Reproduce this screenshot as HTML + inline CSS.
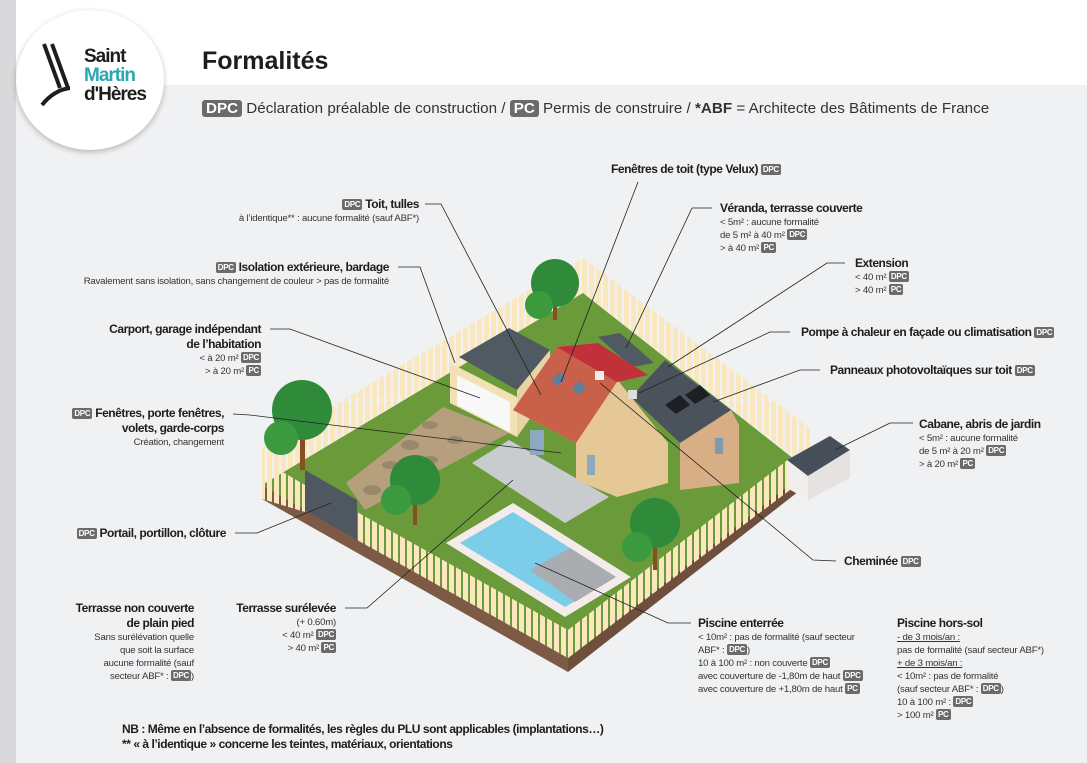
<!DOCTYPE html>
<html><head><meta charset="utf-8">
<style>
*{margin:0;padding:0;box-sizing:border-box}
body{width:1087px;height:763px;overflow:hidden;background:#f0f1f3;position:relative;font-family:"Liberation Sans Narrow","Liberation Sans",sans-serif;color:#1d1d1b}
.strip{position:absolute;left:0;top:0;width:16px;height:763px;background:#d9d9db}
.topw{position:absolute;left:16px;top:0;width:1071px;height:85px;background:#fff}
.logo{position:absolute;left:16px;top:10px;width:148px;height:140px;border-radius:50%;background:#fff;box-shadow:0 2px 6px rgba(0,0,0,.25)}
.t{position:absolute;font-size:9.6px;line-height:13px;white-space:nowrap;color:#333;letter-spacing:-0.2px}
.r{text-align:right}
.b{font-weight:bold;font-size:12px;color:#1d1d1b;line-height:14px;letter-spacing:-0.45px}
.bd{display:inline-block;background:#6b6b6b;color:#fff;font-weight:bold;font-size:8px;line-height:11px;padding:0 2px;border-radius:2px;vertical-align:1px;letter-spacing:-0.3px}
u{text-decoration:underline}
</style></head><body>
<div class="strip"></div><div class="topw"></div>
<div class="logo"></div>
<svg style="position:absolute;left:40px;top:40px" width="30" height="70"><path d="M4 4 L20 48 M12 4 L28 48" stroke="#1d1d1b" stroke-width="4" fill="none"/><path d="M2 65 Q14 50 30 48" stroke="#1d1d1b" stroke-width="4" fill="none"/></svg>
<div style="position:absolute;left:84px;top:47px;font:bold 19px/19px 'Liberation Sans',sans-serif;color:#1d1d1b;letter-spacing:-1px">Saint<br><span style="color:#2aa6b4">Martin</span><br><span>d'Hères</span></div>
<div style="position:absolute;left:202px;top:46px;font:bold 25px/30px 'Liberation Sans',sans-serif;color:#1d1d1b">Formalités</div>
<div style="position:absolute;left:202px;top:98px;font:15.2px/22px 'Liberation Sans',sans-serif;color:#333;white-space:nowrap"><span style="background:#6b6b6b;color:#fff;font-weight:bold;padding:0 4px;border-radius:3px">DPC</span> Déclaration préalable de construction / <span style="background:#6b6b6b;color:#fff;font-weight:bold;padding:0 4px;border-radius:3px">PC</span> Permis de construire / <b>*ABF</b> = Architecte des Bâtiments de France</div>

<svg style="position:absolute;left:0;top:0" width="1087" height="763">
<defs>
<pattern id="fence" width="7" height="400" patternUnits="userSpaceOnUse"><rect x="1" y="0" width="5" height="400" rx="2.5" fill="#fbe7bd"/></pattern>
</defs>
<polygon points="262,448 583,258 583,293 262,485" fill="url(#fence)"/>
<polygon points="583,258 810,428 810,470 583,293" fill="url(#fence)"/>
<polygon points="262,485 568,658 568,672 262,499" fill="#7d5a45"/>
<polygon points="568,658 808,470 808,484 568,672" fill="#6e4f3c"/>
<polygon points="262,485 583,293 808,470 568,658" fill="#6a9a3a"/>
<polygon points="443,407 509,433 365,510 346,483" fill="#b59f7d"/>
<g fill="#8a7a62" opacity=".6"><ellipse cx="430" cy="425" rx="8" ry="4"/><ellipse cx="410" cy="445" rx="9" ry="5"/><ellipse cx="390" cy="465" rx="8" ry="4"/><ellipse cx="372" cy="490" rx="9" ry="5"/><ellipse cx="455" cy="440" rx="8" ry="4"/><ellipse cx="430" cy="460" rx="8" ry="4"/></g>
<polygon points="472,463 509,440 609,497 565,523" fill="#c9cccf"/>
<polygon points="450,363 517,397 517,437 450,403" fill="#f3e0b5"/>
<polygon points="457,375 510,402 510,432 457,405" fill="#f8f8f8"/>
<polygon points="459,357 509,328 550,350 517,390" fill="#4f5a63"/>
<polygon points="517,390 550,350 550,390 517,437" fill="#e8d3a6"/>
<polygon points="513,410 576,443 576,480 617,497 668,483 668,443 620,383 598,343 557,347" fill="#e6c796"/>
<polygon points="598,337 620,333 654,363 632,367" fill="#4f5a63"/>
<polygon points="513,410 557,347 598,343 648,375 617,382 576,443" fill="#c8604a"/>
<polygon points="557,347 598,343 648,375 617,382" fill="#c0313a"/>
<polygon points="551,380 560,372 566,378 557,386" fill="#5e7e9a"/>
<polygon points="572,388 580,381 586,388 578,395" fill="#5e7e9a"/>
<rect x="595" y="371" width="9" height="9" fill="#eee"/>
<rect x="530" y="430" width="14" height="25" fill="#8ea9bf"/>
<rect x="587" y="455" width="8" height="20" fill="#8ea9bf"/>
<polygon points="631,397 680,443 680,490 739,483 739,425 731,410 665,360" fill="#d8ae84"/>
<polygon points="631,397 665,360 731,410 680,443" fill="#4a535c"/>
<polygon points="665,405 680,395 690,405 676,414" fill="#1c1f24"/>
<polygon points="685,395 700,385 710,395 695,404" fill="#1c1f24"/>
<rect x="628" y="390" width="9" height="9" fill="#ddd"/>
<rect x="715" y="438" width="8" height="16" fill="#7e9ab3"/>
<polygon points="446,543 513,503 631,577 565,617" fill="#f3ecea"/>
<polygon points="460,543 513,512 616,577 565,607" fill="#7ccde9"/>
<polygon points="530,570 570,548 616,577 575,602" fill="#a9adb1"/>
<polygon points="305,470 357,500 357,540 305,510" fill="#4f5760"/>
<polygon points="262,460 305,485 305,512 262,499" fill="url(#fence)"/>
<polygon points="357,512 568,630 568,658 357,540" fill="url(#fence)"/>
<polygon points="568,630 790,458 790,490 568,658" fill="url(#fence)"/>
<polygon points="787,460 830,436 850,450 808,476" fill="#47505a"/>
<polygon points="787,460 808,476 808,500 787,488" fill="#f2eeee"/>
<polygon points="808,476 850,450 850,478 808,500" fill="#e6e2e2"/>
<g fill="#2f8a3a">
<rect x="300" y="430" width="5" height="40" fill="#8a4e23"/><circle cx="302" cy="410" r="30"/><circle cx="281" cy="438" r="17" fill="#3b9a3e"/>
<rect x="553" y="290" width="4" height="30" fill="#8a4e23"/><circle cx="555" cy="283" r="24"/><circle cx="539" cy="305" r="14" fill="#3b9a3e"/>
<rect x="413" y="495" width="4" height="30" fill="#8a4e23"/><circle cx="415" cy="480" r="25"/><circle cx="396" cy="500" r="15" fill="#3b9a3e"/>
<rect x="653" y="540" width="4" height="30" fill="#8a4e23"/><circle cx="655" cy="523" r="25"/><circle cx="637" cy="547" r="15" fill="#3b9a3e"/>
</g>
<g stroke="#222" stroke-width="0.8" fill="none">
<polyline points="425,204 441,204 541,395"/>
<polyline points="398,267 420,267 455,363"/>
<polyline points="270,329 290,329 480,398"/>
<polyline points="233,414 250,415 561,453"/>
<polyline points="235,533 257,533 331,503"/>
<polyline points="345,608 367,608 513,480"/>
<polyline points="638,182 561,382"/>
<polyline points="712,208 692,208 626,348"/>
<polyline points="845,263 827,263 668,367"/>
<polyline points="790,332 770,332 639,393"/>
<polyline points="820,370 800,370 713,402"/>
<polyline points="913,423 890,423 835,450"/>
<polyline points="836,561 813,560 600,383"/>
<polyline points="691,623 668,623 535,563"/>
</g>
</svg>

<div class="t r" style="right:668px;top:197px"><span class="b"><span class="bd">DPC</span> Toit, tulles</span><br>à l’identique** : aucune formalité (sauf ABF*)</div>
<div class="t r" style="right:698px;top:260px"><span class="b"><span class="bd">DPC</span> Isolation extérieure, bardage</span><br>Ravalement sans isolation, sans changement de couleur &gt; pas de formalité</div>
<div class="t r" style="right:826px;top:322px"><span class="b">Carport, garage indépendant<br>de l’habitation</span><br>&lt; à 20 m² <span class="bd">DPC</span><br>&gt; à 20 m² <span class="bd">PC</span></div>
<div class="t r" style="right:863px;top:406px"><span class="b"><span class="bd">DPC</span> Fenêtres, porte fenêtres,<br>volets, garde-corps</span><br>Création, changement</div>
<div class="t r" style="right:861px;top:526px"><span class="b"><span class="bd">DPC</span> Portail, portillon, clôture</span></div>
<div class="t r" style="right:893px;top:601px"><span class="b">Terrasse non couverte<br>de plain pied</span><br>Sans surélévation quelle<br>que soit la surface<br>aucune formalité (sauf<br>secteur ABF* : <span class="bd">DPC</span>)</div>
<div class="t r" style="right:751px;top:601px"><span class="b">Terrasse surélevée</span><br>(+ 0.60m)<br>&lt; 40 m² <span class="bd">DPC</span><br>&gt; 40 m² <span class="bd">PC</span></div>
<div class="t" style="left:611px;top:162px"><span class="b">Fenêtres de toit (type Velux) <span class="bd">DPC</span></span></div>
<div class="t" style="left:720px;top:201px"><span class="b">Véranda, terrasse couverte</span><br>&lt; 5m² : aucune formalité<br>de 5 m² à 40 m² <span class="bd">DPC</span><br>&gt; à 40 m² <span class="bd">PC</span></div>
<div class="t" style="left:855px;top:256px"><span class="b">Extension</span><br>&lt; 40 m² <span class="bd">DPC</span><br>&gt; 40 m² <span class="bd">PC</span></div>
<div class="t" style="left:801px;top:325px"><span class="b">Pompe à chaleur en façade ou climatisation <span class="bd">DPC</span></span></div>
<div class="t" style="left:830px;top:363px"><span class="b">Panneaux photovoltaïques sur toit <span class="bd">DPC</span></span></div>
<div class="t" style="left:919px;top:417px"><span class="b">Cabane, abris de jardin</span><br>&lt; 5m² : aucune formalité<br>de 5 m² à 20 m² <span class="bd">DPC</span><br>&gt; à 20 m² <span class="bd">PC</span></div>
<div class="t" style="left:844px;top:554px"><span class="b">Cheminée <span class="bd">DPC</span></span></div>
<div class="t" style="left:698px;top:616px"><span class="b">Piscine enterrée</span><br>&lt; 10m² : pas de formalité (sauf secteur<br>ABF* : <span class="bd">DPC</span>)<br>10 à 100 m² : non couverte <span class="bd">DPC</span><br>avec couverture de -1,80m de haut <span class="bd">DPC</span><br>avec couverture de +1,80m de haut <span class="bd">PC</span></div>
<div class="t" style="left:897px;top:616px"><span class="b">Piscine hors-sol</span><br><u>- de 3 mois/an :</u><br>pas de formalité (sauf secteur ABF*)<br><u>+ de 3 mois/an :</u><br>&lt; 10m² : pas de formalité<br>(sauf secteur ABF* : <span class="bd">DPC</span>)<br>10 à 100 m² : <span class="bd">DPC</span><br>&gt; 100 m² <span class="bd">PC</span></div>
<div class="t" style="left:122px;top:722px;font-weight:bold;font-size:12px;line-height:15px;color:#1d1d1b;letter-spacing:-0.45px">NB : Même en l’absence de formalités, les règles du PLU sont applicables (implantations…)<br>** «  à l’identique » concerne les teintes, matériaux, orientations</div>
</body></html>
